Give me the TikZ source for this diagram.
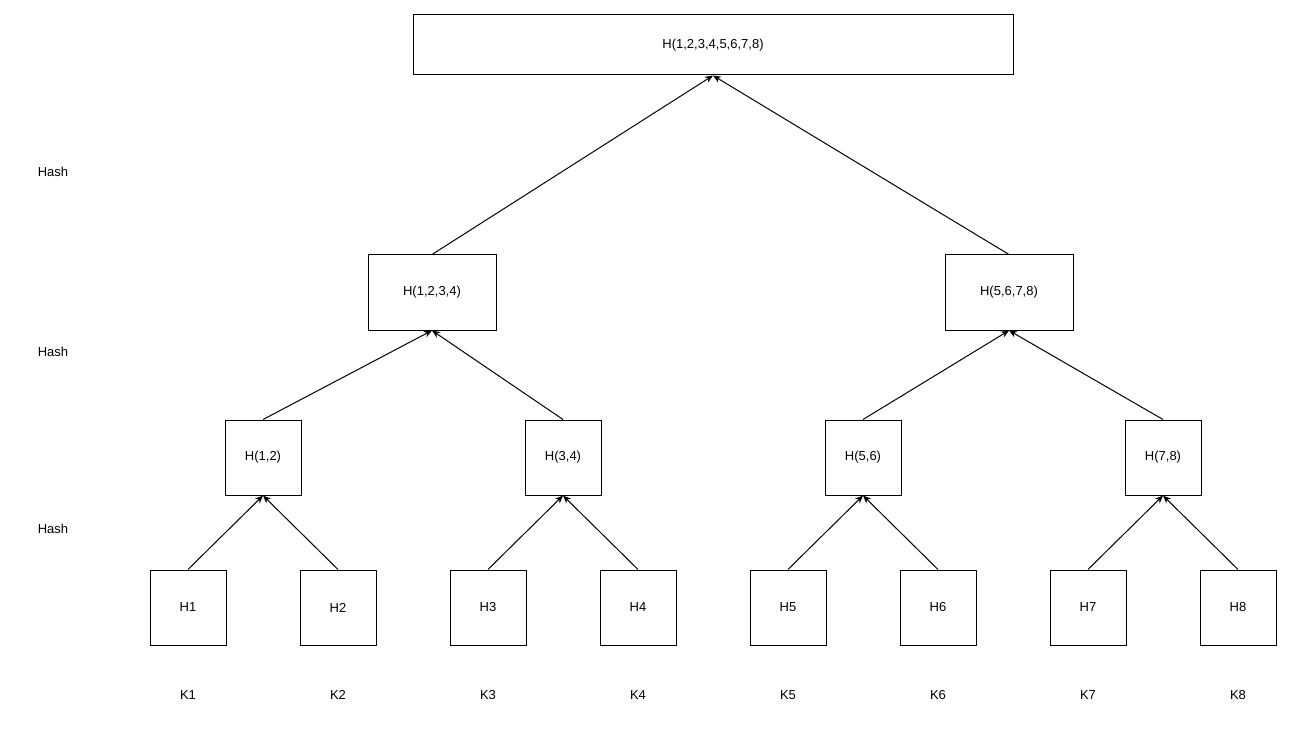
\documentclass[tikz,border=0pt]{standalone}
\usepackage{fontspec}
\setmainfont{Liberation Sans}
\usetikzlibrary{arrows.meta}
\tikzstyle{hashbox}=[rectangle, draw, line width=0.75pt, inner sep=0pt,
                     font=\fontsize{9.75}{12}\selectfont]
\tikzstyle{sidetext}=[font=\fontsize{9.75}{12}\selectfont]
\tikzstyle{link}=[-{Stealth[length=6pt,width=5pt]}, line width=0.75pt]

\begin{document}
\begin{tikzpicture}[x=0.75pt, y=-0.75pt]
\useasboundingbox (0,0) rectangle (1292,734);

%%%%%%%%%%%%%%%%%%
\node (root) at (713, 45) [hashbox, minimum width=450pt, minimum height=45pt] {H(1,2,3,4,5,6,7,8)};

%%%%%%%%%%%%%%%%%%
\node (H1234) at (432, 292.5) [hashbox, minimum width=96pt, minimum height=56.25pt] {H(1,2,3,4)};

\node (H5678) at (1009, 292.5) [hashbox, minimum width=96pt, minimum height=56.25pt] {H(5,6,7,8)};

%%%%%%%%%%%%%%%%%%
\node (H12) at (263, 457.5) [hashbox, minimum width=57pt, minimum height=56.25pt] {H(1,2)};

\node (H34) at (563, 457.5) [hashbox, minimum width=57pt, minimum height=56.25pt] {H(3,4)};

\node (H56) at (863, 457.5) [hashbox, minimum width=57pt, minimum height=56.25pt] {H(5,6)};

\node (H78) at (1163, 457.5) [hashbox, minimum width=57pt, minimum height=56.25pt] {H(7,8)};

%%%%%%%%%%%%%%%%%%
\foreach \i in {1,...,8} {
  \node (H\i) at (38+150*\i, 607.5) [hashbox, minimum width=57pt, minimum height=56.25pt] {H\i};
  \node (K\i) at (38+150*\i, 695) [sidetext] {K\i};
}

%%%%%%%%%%%%%%%%%%
\node (hash_top) at (53, 172) [sidetext] {Hash};

\node (hash_mid) at (53, 352) [sidetext] {Hash};

\node (hash_low) at (53, 529) [sidetext] {Hash};

%%%%%%%%%%%%%%%%%%%%
\draw [link] (H1234.north) to (root.south);

\draw [link] (H5678.north) to (root.south);

%%%%%%%%%%%%%%%%%%%%
\draw [link] (H12.north) to (H1234.south);

\draw [link] (H34.north) to (H1234.south);

\draw [link] (H56.north) to (H5678.south);

\draw [link] (H78.north) to (H5678.south);

%%%%%%%%%%%%%%%%%%%%
\draw [link] (H1.north) to (H12.south);

\draw [link] (H2.north) to (H12.south);

\draw [link] (H3.north) to (H34.south);

\draw [link] (H4.north) to (H34.south);

\draw [link] (H5.north) to (H56.south);

\draw [link] (H6.north) to (H56.south);

\draw [link] (H7.north) to (H78.south);

\draw [link] (H8.north) to (H78.south);

\end{tikzpicture}
\end{document}
